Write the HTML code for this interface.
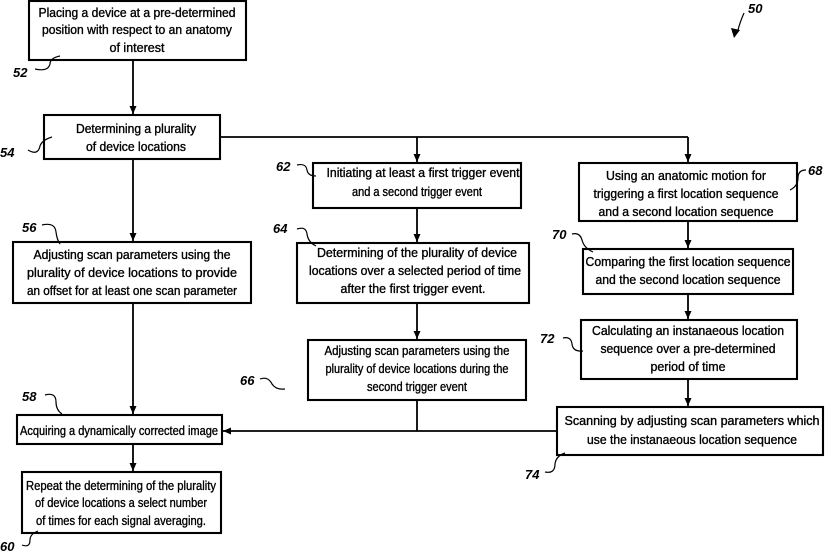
<!DOCTYPE html>
<html><head><meta charset="utf-8"><style>
html,body{margin:0;padding:0;background:#fff;}
svg{display:block;}
text{font-family:"Liberation Sans",sans-serif;font-size:12.5px;fill:#000;stroke:#000;stroke-width:0.35px;}
.n{font-weight:bold;font-style:italic;font-size:13px;stroke-width:0;}
</style></head><body>
<svg width="826" height="552" viewBox="0 0 826 552" xmlns="http://www.w3.org/2000/svg">
<defs><marker id="a" markerWidth="9" markerHeight="9" refX="8" refY="4.5" orient="auto" markerUnits="userSpaceOnUse"><path d="M0,1 L8,4.5 L0,8z" fill="#000"/></marker></defs>
<g fill="none" stroke="#000" stroke-width="2.1">
<rect x="29" y="1" width="217" height="59"/>
<rect x="44" y="115" width="176" height="44"/>
<rect x="13" y="242" width="238" height="61"/>
<rect x="17" y="415" width="205" height="29"/>
<rect x="22" y="472" width="199" height="61"/>
<rect x="313" y="163" width="208" height="45"/>
<rect x="297" y="243" width="232" height="60"/>
<rect x="308" y="340" width="218" height="60"/>
<rect x="579" y="163" width="218" height="58"/>
<rect x="583" y="249" width="210" height="45"/>
<rect x="581" y="320" width="216" height="59"/>
<rect x="557" y="407" width="266" height="48"/>
<g stroke-width="1.8">
<path d="M133 60V114" marker-end="url(#a)"/>
<path d="M133 159V241" marker-end="url(#a)"/>
<path d="M133 303V414" marker-end="url(#a)"/>
<path d="M133 444V471" marker-end="url(#a)"/>
<path d="M220 137H688"/>
<path d="M417 137V162" marker-end="url(#a)"/>
<path d="M688 137V162" marker-end="url(#a)"/>
<path d="M417 208V242" marker-end="url(#a)"/>
<path d="M417 303V339" marker-end="url(#a)"/>
<path d="M417 400V431"/>
<path d="M557 431H223" marker-end="url(#a)"/>
<path d="M688 221V248" marker-end="url(#a)"/>
<path d="M688 294V319" marker-end="url(#a)"/>
<path d="M688 379V406" marker-end="url(#a)"/>
</g>
<g stroke-width="1.2">
<path d="M35 69 Q48 72 50 64 Q50 58 60 56"/>
<path d="M28 150 Q38 156 40 146 Q42 140 52 137"/>
<path d="M42 225 Q55 222 56 232 Q57 240 60 244"/>
<path d="M45 395 Q56 392 56 402 Q56 410 62 414"/>
<path d="M22 545 Q30 548 30 540 Q30 534 38 531"/>
<path d="M297 165 Q306 163 307 170 Q308 176 316 176"/>
<path d="M297 229 Q306 226 307 234 Q308 242 316 246"/>
<path d="M260 379 Q268 376 272 384 Q276 390 285 389"/>
<path d="M806 170 Q798 170 798 178 Q798 186 790 190"/>
<path d="M572 234 Q580 232 582 240 Q584 248 593 252"/>
<path d="M563 338 Q571 336 572 344 Q573 352 583 351"/>
<path d="M545 472 Q555 474 555 464 Q556 456 565 453"/>
<path d="M744 13 Q740 22 738 30"/>
</g>
<path d="M734 38 L731 28 L740 30z" fill="#000" stroke="none"/>
</g>
<g text-anchor="middle">
<text x="137" y="17" textLength="197" lengthAdjust="spacingAndGlyphs">Placing a device at a pre-determined</text>
<text x="137" y="34" textLength="190" lengthAdjust="spacingAndGlyphs">position with respect to an anatomy</text>
<text x="137" y="52" textLength="55" lengthAdjust="spacingAndGlyphs">of interest</text>
<text x="136" y="133" textLength="120" lengthAdjust="spacingAndGlyphs">Determining a plurality</text>
<text x="136" y="151" textLength="100" lengthAdjust="spacingAndGlyphs">of device locations</text>
<text x="132" y="259" textLength="197" lengthAdjust="spacingAndGlyphs">Adjusting scan parameters using the</text>
<text x="132" y="277" textLength="210" lengthAdjust="spacingAndGlyphs">plurality of device locations to provide</text>
<text x="132" y="295" textLength="210" lengthAdjust="spacingAndGlyphs">an offset for at least one scan parameter</text>
<text x="119" y="435" textLength="198" lengthAdjust="spacingAndGlyphs">Acquiring a dynamically corrected image</text>
<text x="121" y="490" textLength="190" lengthAdjust="spacingAndGlyphs">Repeat the determining of the plurality</text>
<text x="121" y="507" textLength="172" lengthAdjust="spacingAndGlyphs">of device locations a select number</text>
<text x="121" y="525" textLength="170" lengthAdjust="spacingAndGlyphs">of times for each signal averaging.</text>
<text x="423" y="177" textLength="193" lengthAdjust="spacingAndGlyphs">Initiating at least a first trigger event</text>
<text x="417" y="196" textLength="130" lengthAdjust="spacingAndGlyphs">and a second trigger event</text>
<text x="417" y="257" textLength="200" lengthAdjust="spacingAndGlyphs">Determining of the plurality of device</text>
<text x="415" y="275" textLength="212" lengthAdjust="spacingAndGlyphs">locations over a selected period of time</text>
<text x="413" y="293" textLength="145" lengthAdjust="spacingAndGlyphs">after the first trigger event.</text>
<text x="417" y="355" textLength="185" lengthAdjust="spacingAndGlyphs">Adjusting scan parameters using the</text>
<text x="417" y="373" textLength="183" lengthAdjust="spacingAndGlyphs">plurality of device locations during the</text>
<text x="417" y="391" textLength="100" lengthAdjust="spacingAndGlyphs">second trigger event</text>
<text x="686" y="180" textLength="160" lengthAdjust="spacingAndGlyphs">Using an anatomic motion for</text>
<text x="686" y="198" textLength="185" lengthAdjust="spacingAndGlyphs">triggering a first location sequence</text>
<text x="686" y="216" textLength="175" lengthAdjust="spacingAndGlyphs">and a second location sequence</text>
<text x="688" y="266" textLength="205" lengthAdjust="spacingAndGlyphs">Comparing the first location sequence</text>
<text x="688" y="284" textLength="185" lengthAdjust="spacingAndGlyphs">and the second location sequence</text>
<text x="688" y="335" textLength="192" lengthAdjust="spacingAndGlyphs">Calculating an instanaeous location</text>
<text x="688" y="353" textLength="175" lengthAdjust="spacingAndGlyphs">sequence over a pre-determined</text>
<text x="688" y="371" textLength="75" lengthAdjust="spacingAndGlyphs">period of time</text>
<text x="692" y="425" textLength="255" lengthAdjust="spacingAndGlyphs">Scanning by adjusting scan parameters which</text>
<text x="692" y="444" textLength="210" lengthAdjust="spacingAndGlyphs">use the instanaeous location sequence</text>
</g>
<text class="n" x="13" y="77">52</text>
<text class="n" x="0" y="157">54</text>
<text class="n" x="22" y="232">56</text>
<text class="n" x="22" y="401">58</text>
<text class="n" x="0" y="551">60</text>
<text class="n" x="276" y="171">62</text>
<text class="n" x="273" y="233">64</text>
<text class="n" x="240" y="385">66</text>
<text class="n" x="808" y="175">68</text>
<text class="n" x="552" y="239">70</text>
<text class="n" x="540" y="343">72</text>
<text class="n" x="525" y="479">74</text>
<text class="n" x="748" y="13">50</text>
</svg>
</body></html>
